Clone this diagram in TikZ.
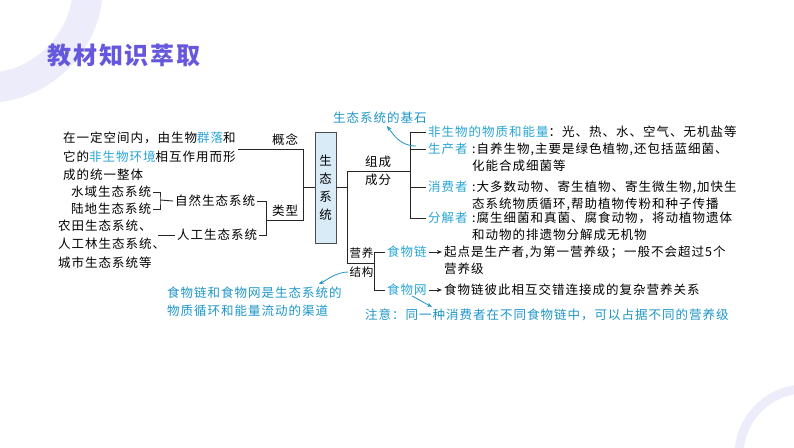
\documentclass[tikz,border=0pt]{standalone}
\usepackage{fontspec}
\setmainfont{Noto Sans CJK SC}[LetterSpace=8]
\usetikzlibrary{arrows.meta}
\definecolor{titlecol}{RGB}{102,88,222}
\definecolor{keycol}{RGB}{40,165,215}
\definecolor{notecol}{RGB}{30,150,200}
\definecolor{boxcol}{RGB}{218,235,248}
\definecolor{decocol}{RGB}{236,236,250}
\newcommand{\key}[1]{\textcolor{keycol}{#1}}
\tikzset{
  txt/.style={inner xsep=2pt, inner ysep=0pt, anchor=west, align=left, font=\fontsize{12.5}{17}\selectfont},
  wide/.style={font=\fontsize{12.5}{18.7}\selectfont},
  tag/.style={inner sep=0pt, font=\fontsize{12.5}{18}\selectfont},
  note/.style={txt, text=notecol, font=\fontsize{12.5}{18}\selectfont},
  link/.style={draw=black!85, line width=0.9pt},
  notearrow/.style={draw=notecol, line width=0.8pt, -{Stealth[length=5pt,width=4pt]}},
  sysbox/.style={draw=black!70, fill=boxcol, line width=0.9pt, minimum width=21, minimum height=111,
    inner sep=0pt, align=center, font=\fontsize{12.5}{18}\selectfont}
}
\begin{document}
\begin{tikzpicture}[x=1pt,y=-1pt]
\useasboundingbox (0,0) rectangle (794,447);
\fill[white] (0,0) rectangle (794,447);
\draw[decocol,line width=30] (-15,-15) circle (103);
\draw[decocol,line width=9] (805,455) circle (66);

\node[tag,anchor=west,text=titlecol,font=\fontsize{24}{24}\selectfont\bfseries] (title) at (47,55) {教材知识萃取};

\node[txt,wide] (defn) at (61,156.5) {在一定空间内，由生物\key{群落}和\\它的\key{非生物环境}相互作用而形\\成的统一整体};
\node[txt] (water) at (69,192) {水域生态系统};
\node[txt] (land) at (69,209) {陆地生态系统};
\node[txt,wide] (farm) at (56,244) {农田生态系统、\\人工林生态系统、\\城市生态系统等};
\node[txt] (nat) at (173,201) {自然生态系统};
\node[txt] (art) at (175,235) {人工生态系统};
\node[tag] (concept) at (285,140) {概念};
\node[tag] (kind) at (285,211) {类型};
\node[sysbox] (eco) at (325.5,187.5) {生\\态\\系\\统};
\node[tag] (comp1) at (378,162) {组成};
\node[tag] (comp2) at (378,180) {成分};
\node[tag,font=\fontsize{11.5}{18}\selectfont] (nutr1) at (361.5,253) {营养};
\node[tag,font=\fontsize{11.5}{18}\selectfont] (nutr2) at (361.5,272) {结构};

\node[txt] (abio) at (426,132) {\key{非生物的物质和能量}：光、热、水、空气、无机盐等};
\node[txt] (prod) at (426,149) {\key{生产者}};
\node[txt,anchor=north west] (prodd) at (prod.north east) {:自养生物,主要是绿色植物,还包括蓝细菌、\\化能合成细菌等};
\node[txt] (cons) at (426,187) {\key{消费者}};
\node[txt,anchor=north west] (consd) at (cons.north east) {:大多数动物、寄生植物、寄生微生物,加快生\\态系统物质循环,帮助植物传粉和种子传播};
\node[txt] (decp) at (426,218) {\key{分解者}};
\node[txt,anchor=north west] (decpd) at (decp.north east) {:腐生细菌和真菌、腐食动物，将动植物遗体\\和动物的排遗物分解成无机物};

\node[txt] (chain) at (385,252) {\key{食物链}};
\node[txt,anchor=north west] (chaind) at ([xshift=13pt]chain.north east) {起点是生产者,为第一营养级；一般不会超过5个\\营养级};
\node[txt] (web) at (385,290) {\key{食物网}};
\node[txt] (webd) at ([xshift=13pt]web.east) {食物链彼此相互交错连接成的复杂营养关系};

\node[note] (base) at (331,118) {生态系统的基石};
\node[note] (path) at (165,302) {食物链和食物网是生态系统的\\物质循环和能量流动的渠道};
\node[note] (tip) at (363,315) {注意：同一种消费者在不同食物链中，可以占据不同的营养级};

\coordinate (kT) at (303,149);
\coordinate (kB) at (303,220);
\coordinate (tB) at (266,235);
\coordinate (wX) at (160,200);
\coordinate (fA) at (158,235);
\coordinate (jT) at (347,171);
\coordinate (jB) at (347,263);
\coordinate (cT) at (410,132);
\coordinate (cB) at (410,218);
\coordinate (sB) at (374,290);

\draw[link] (defn.east |- kT) -- (kT) -- (kB) -- (kB -| tB);
\draw[link] (kT |- eco.west) -- (eco.west);
\draw[link] (water.east) -| (wX) |- (land.east);
\draw[link] (wX) -- (nat.west);
\draw[link] (nat.east) -| (tB) -- (art.east);
\draw[link] (fA) -- (art.west);
\draw[link] (eco.east) -- (eco.east -| jT);
\draw[link] (cT |- jT) -- (jT) -- (jB) -- (jB -| sB);
\draw[link] (abio.west) -| (cB) -- (decp.west);
\draw[link] (cT |- prod.west) -- (prod.west);
\draw[link] (cT |- cons.west) -- (cons.west);
\draw[link] (chain.west) -| (sB) -- (web.west);
\draw[link,-{Stealth[length=5pt,width=4pt]}] (chain.east) -- (chain.east -| chaind.west);
\draw[link,-{Stealth[length=5pt,width=4pt]}] (web.east) -- (webd.west);

\draw[notearrow] ([xshift=-10pt,yshift=3pt]prod.west) .. controls +(-16,0) and +(6,8) .. ([xshift=7pt,yshift=-2pt]base.south);
\draw[notearrow] ([xshift=-1pt]nutr2.west) .. controls +(-12,0) and +(8,-4) .. ([xshift=-25pt,yshift=3pt]path.north east);
\draw[notearrow] ([xshift=5pt]web.south) .. controls +(6,3) and +(-6,-3) .. ([xshift=69pt,yshift=2pt]tip.north west);
\end{tikzpicture}
\end{document}
